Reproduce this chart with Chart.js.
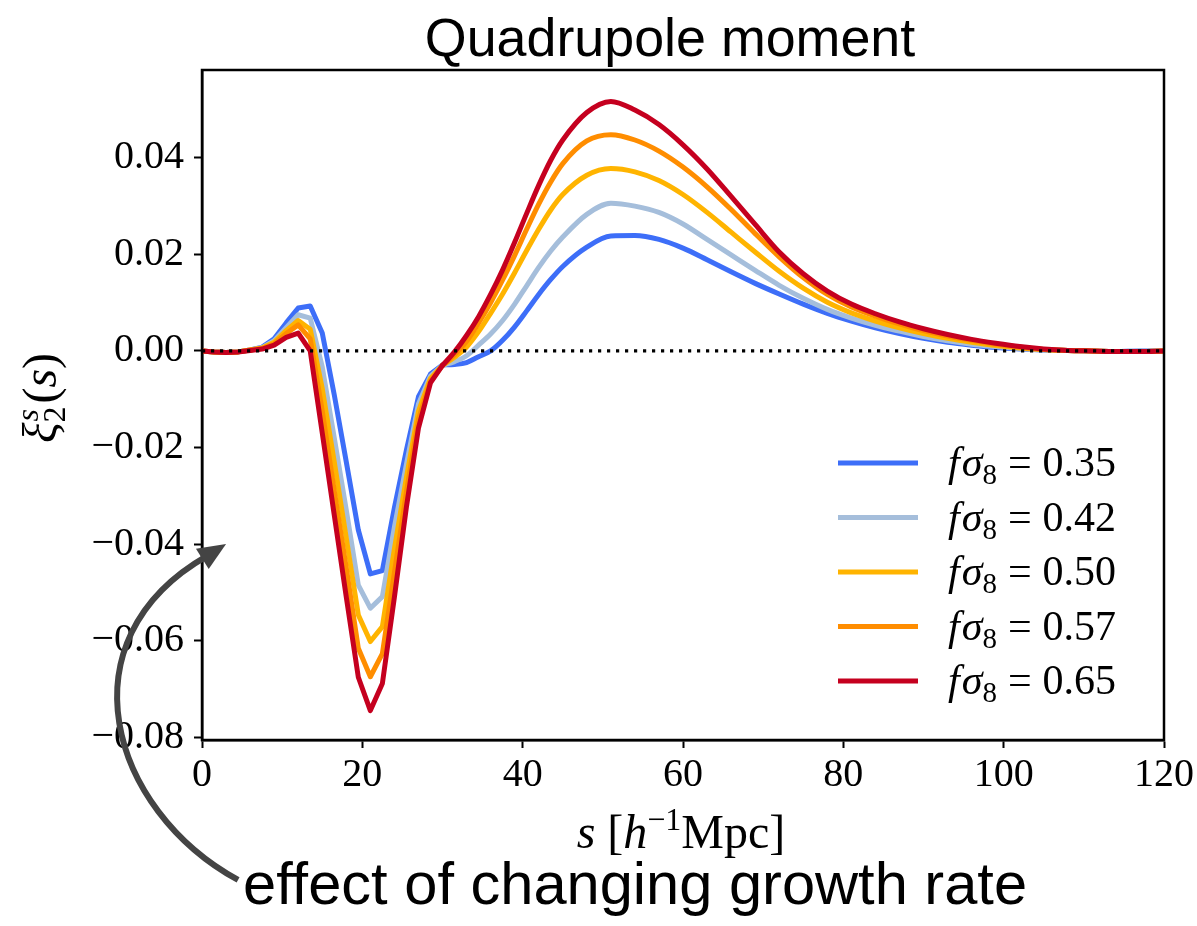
<!DOCTYPE html>
<html>
<head>
<meta charset="utf-8">
<script src="https://cdn.jsdelivr.net/npm/chart.js@4.4.0/dist/chart.umd.min.js"></script>
<style>
  html, body { margin: 0; padding: 0; background: #fff; }
  #wrap { width: 1197px; height: 926px; }
</style>
</head>
<body>
<div id="wrap"><canvas id="chart" width="1197" height="926"></canvas></div>
<script>
// separation s [h^-1 Mpc]
const sValues = [0, 1.5, 3, 4.5, 6, 7.5, 9, 10.5, 12, 13.5, 15, 16.5, 18, 19.5, 21, 22.5, 24, 25.5, 27, 28.5,
  30, 31.5, 33, 34.5, 36, 37.5, 39, 40.5, 42, 43.5, 45, 48, 51, 54, 57, 60, 63, 66, 69, 72,
  75, 78, 81, 84, 87, 90, 93, 96, 99, 102, 105, 108, 111, 114, 117, 120];

// quadrupole xi_2(s), one list per f*sigma8
const xi035 = [0, -0.0002, -0.0003, -0.0002, 0.0002, 0.0008, 0.0025, 0.0058, 0.0089, 0.0093, 0.0037, -0.0091, -0.0230, -0.0371, -0.0462, -0.0455, -0.0325, -0.0205, -0.0095, -0.0048,
  -0.0029, -0.0028, -0.0024, -0.0012, 0.0000, 0.0022, 0.0050, 0.0083, 0.0117, 0.0148, 0.0175, 0.0215, 0.0238, 0.0239, 0.0231, 0.0213, 0.0189, 0.0164, 0.0140, 0.0118,
  0.0097, 0.0078, 0.0062, 0.0048, 0.0036, 0.0026, 0.0018, 0.0012, 0.0007, 0.0004, 0.0002, 0.0001, 0, -0.0001, 0, 0];
const xi042 = [0, -0.0002, -0.0003, -0.0002, 0.0002, 0.0007, 0.0021, 0.0048, 0.0075, 0.0068, -0.0033, -0.0180, -0.0330, -0.0485, -0.0533, -0.0509, -0.0365, -0.0235, -0.0110, -0.0052,
  -0.0030, -0.0022, -0.0010, 0.0012, 0.0035, 0.0063, 0.0097, 0.0135, 0.0173, 0.0207, 0.0236, 0.0283, 0.0306, 0.0300, 0.0287, 0.0263, 0.0231, 0.0199, 0.0167, 0.0136,
  0.0109, 0.0086, 0.0068, 0.0053, 0.0041, 0.0030, 0.0021, 0.0014, 0.0009, 0.0005, 0.0002, 0.0001, 0, -0.0001, 0, 0];
const xi050 = [0, -0.0002, -0.0003, -0.0002, 0.0002, 0.0006, 0.0018, 0.0042, 0.0063, 0.0045, -0.0078, -0.0230, -0.0388, -0.0547, -0.0602, -0.0571, -0.0410, -0.0262, -0.0125, -0.0057,
  -0.0030, -0.0013, 0.0008, 0.0040, 0.0078, 0.0118, 0.0162, 0.0208, 0.0252, 0.0292, 0.0324, 0.0364, 0.0378, 0.0371, 0.0353, 0.0324, 0.0287, 0.0246, 0.0205, 0.0165,
  0.0130, 0.0101, 0.0079, 0.0062, 0.0048, 0.0036, 0.0026, 0.0018, 0.0011, 0.0006, 0.0003, 0.0001, 0, -0.0001, -0.0001, 0];
const xi057 = [0, -0.0002, -0.0003, -0.0002, 0.0002, 0.0005, 0.0015, 0.0036, 0.0054, 0.0025, -0.0124, -0.0290, -0.0450, -0.0616, -0.0675, -0.0627, -0.0460, -0.0292, -0.0142, -0.0062,
  -0.0030, -0.0008, 0.0020, 0.0058, 0.0100, 0.0147, 0.0198, 0.0252, 0.0304, 0.0350, 0.0388, 0.0435, 0.0448, 0.0437, 0.0414, 0.0381, 0.0340, 0.0293, 0.0243, 0.0195,
  0.0152, 0.0117, 0.0091, 0.0072, 0.0056, 0.0042, 0.0031, 0.0022, 0.0014, 0.0008, 0.0003, 0.0001, 0, -0.0001, -0.0001, 0];
const xi065 = [0, -0.0002, -0.0003, -0.0002, 0.0001, 0.0004, 0.0012, 0.0028, 0.0037, 0.0000, -0.0170, -0.0340, -0.0510, -0.0676, -0.0745, -0.0689, -0.0510, -0.0323, -0.0160, -0.0066,
  -0.0030, -0.0002, 0.0032, 0.0071, 0.0117, 0.0168, 0.0225, 0.0285, 0.0343, 0.0395, 0.0437, 0.0494, 0.0517, 0.0499, 0.0469, 0.0427, 0.0377, 0.0320, 0.0262, 0.0205,
  0.0160, 0.0124, 0.0097, 0.0077, 0.0060, 0.0046, 0.0034, 0.0024, 0.0016, 0.0009, 0.0004, 0.0001, 0, -0.0001, -0.0001, 0];

const growthLabels = ['0.35', '0.42', '0.50', '0.57', '0.65'];
const zeroLineS = [0, 120];
const xTicks = [0, 20, 40, 60, 80, 100, 120];
const yTicks = [-0.08, -0.06, -0.04, -0.02, 0, 0.02, 0.04];

const seriesList = [xi035, xi042, xi050, xi057, xi065];
const lineColors = ['#3d6ef8', '#a5bedb', '#ffb400', '#ff8d00', '#c5001f'];

// the sharp trough part is drawn straight, the smooth hump part with monotone curves
const SPLIT = sValues.indexOf(30);

const SERIF = '"Liberation Serif", "DejaVu Serif", serif';
const SANS = '"Liberation Sans", Arial, sans-serif';

function toPoints(ys, from, to) {
  return sValues.slice(from, to).map((s, i) => ({ x: s, y: ys[from + i] }));
}

function fmtTick(v) {
  if (Math.abs(v) < 1e-9) return '0.00';
  return (v < 0 ? '\u2212' : '') + Math.abs(v).toFixed(2);
}

// draw a row of text pieces with different fonts / offsets
function drawRuns(ctx, runs, x, y, align) {
  let total = 0;
  runs.forEach(r => { ctx.font = r.font; r.w = ctx.measureText(r.t).width + (r.gap || 0); total += r.w; });
  let cx = align === 'center' ? x - total / 2 : x;
  runs.forEach(r => {
    ctx.font = r.font;
    ctx.fillText(r.t, cx + (r.pre || 0), y + (r.dy || 0));
    cx += r.w;
  });
}

const datasets = [];
seriesList.forEach((ys, i) => {
  const common = {
    borderColor: lineColors[i],
    borderWidth: 5,
    pointRadius: 0,
    borderJoinStyle: 'round',
    borderCapStyle: 'round',
    order: seriesList.length - i
  };
  datasets.push(Object.assign({ label: growthLabels[i], inLegend: true, data: toPoints(ys, 0, SPLIT + 1), tension: 0 }, common));
  datasets.push(Object.assign({ label: growthLabels[i], inLegend: false, data: toPoints(ys, SPLIT), cubicInterpolationMode: 'monotone' }, common));
});
datasets.push({
  label: 'zero',
  inLegend: false,
  data: zeroLineS.map(s => ({ x: s, y: 0 })),
  borderColor: '#000',
  borderWidth: 3.2,
  borderDash: [3.2, 5.8],
  pointRadius: 0,
  order: 0
});

const decorPlugin = {
  id: 'decor',
  afterDraw(chart) {
    const ctx = chart.ctx;
    const area = chart.chartArea;
    const xs = chart.scales.x, ys = chart.scales.y;
    ctx.save();

    // frame
    ctx.strokeStyle = '#000';
    ctx.lineWidth = 2.5;
    ctx.strokeRect(area.left, area.top, area.right - area.left, area.bottom - area.top);

    ctx.fillStyle = '#000';
    ctx.textBaseline = 'alphabetic';
    ctx.textAlign = 'left';

    // legend
    const items = chart.data.datasets.filter(d => d.inLegend);
    items.forEach((d, i) => {
      const yy = 463 + i * 54.5;
      ctx.strokeStyle = d.borderColor;
      ctx.lineWidth = 5;
      ctx.lineCap = 'butt';
      ctx.beginPath();
      ctx.moveTo(838, yy);
      ctx.lineTo(918, yy);
      ctx.stroke();
      drawRuns(ctx, [
        { t: 'f', font: 'italic 42px ' + SERIF, gap: 2 },
        { t: '\u03c3', font: 'italic 42px ' + SERIF },
        { t: '8', font: '29px ' + SERIF, dy: 8 },
        { t: '=', font: '42px ' + SERIF, pre: 11, gap: 22 },
        { t: d.label, font: '42px ' + SERIF }
      ], 948, yy + 13, 'left');
    });

    // title
    ctx.fillStyle = '#000';
    ctx.font = '100px ' + SANS;
    let w = ctx.measureText('Quadrupole moment').width;
    ctx.font = (100 * 490 / w).toFixed(1) + 'px ' + SANS;
    ctx.textAlign = 'center';
    ctx.fillText('Quadrupole moment', 670, 56);

    // x axis title
    ctx.textAlign = 'left';
    drawRuns(ctx, [
      { t: 's', font: 'italic 48px ' + SERIF },
      { t: ' [', font: '48px ' + SERIF },
      { t: 'h', font: 'italic 48px ' + SERIF },
      { t: '\u22121', font: '32px ' + SERIF, dy: -18 },
      { t: 'Mpc]', font: '48px ' + SERIF }
    ], 681, 848, 'center');

    // y axis title
    ctx.save();
    ctx.translate(56, 398);
    ctx.rotate(-Math.PI / 2);
    ctx.font = 'italic 48px ' + SERIF;
    const wXi = ctx.measureText('\u03be').width;
    ctx.font = '32px ' + SERIF;
    const wSub = ctx.measureText('2').width;
    ctx.font = '48px ' + SERIF;
    const wPar = ctx.measureText('()').width;
    ctx.font = 'italic 48px ' + SERIF;
    const wS = ctx.measureText('s').width;
    const totalW = wXi + wSub + 3 + wPar + wS;
    let cx = -totalW / 2;
    ctx.font = 'italic 48px ' + SERIF;
    ctx.fillText('\u03be', cx, 0); cx += wXi;
    ctx.font = '32px ' + SERIF;
    ctx.fillText('2', cx, 9);
    ctx.font = 'italic 32px ' + SERIF;
    ctx.fillText('s', cx + 1, -18);
    cx += wSub + 3;
    drawRuns(ctx, [
      { t: '(', font: '48px ' + SERIF },
      { t: 's', font: 'italic 48px ' + SERIF },
      { t: ')', font: '48px ' + SERIF }
    ], cx, 0, 'left');
    ctx.restore();

    // annotation arrow (anchored in data units)
    const P = (s, v) => [xs.getPixelForValue(s), ys.getPixelForValue(v)];
    const p0 = P(4.5, -0.1096), p1 = P(-11.5, -0.0951), p2 = P(-17.7, -0.0599), p3 = P(0.6, -0.0425), tip = P(3.0, -0.0400);
    ctx.strokeStyle = '#444';
    ctx.fillStyle = '#444';
    ctx.lineWidth = 6;
    ctx.lineCap = 'butt';
    ctx.beginPath();
    ctx.moveTo(p0[0], p0[1]);
    ctx.bezierCurveTo(p1[0], p1[1], p2[0], p2[1], p3[0], p3[1]);
    ctx.stroke();
    const ang = Math.atan2(tip[1] - p3[1], tip[0] - p3[0]);
    const hl = 28, hw = 12;
    const bx = tip[0] - hl * Math.cos(ang), by = tip[1] - hl * Math.sin(ang);
    ctx.beginPath();
    ctx.moveTo(tip[0], tip[1]);
    ctx.lineTo(bx + hw * Math.sin(ang), by - hw * Math.cos(ang));
    ctx.lineTo(bx - hw * Math.sin(ang), by + hw * Math.cos(ang));
    ctx.closePath();
    ctx.fill();

    // annotation text
    ctx.fillStyle = '#000';
    ctx.font = '100px ' + SANS;
    w = ctx.measureText('effect of changing growth rate').width;
    ctx.font = (100 * 784 / w).toFixed(1) + 'px ' + SANS;
    ctx.textAlign = 'left';
    ctx.fillText('effect of changing growth rate', 243, 904);

    ctx.restore();
  }
};

new Chart(document.getElementById('chart'), {
  type: 'line',
  data: { datasets: datasets },
  options: {
    responsive: false,
    animation: false,
    devicePixelRatio: 1,
    layout: { padding: { top: 70, right: 32, left: 0, bottom: 0 } },
    plugins: { legend: { display: false }, tooltip: { enabled: false }, title: { display: false } },
    scales: {
      x: {
        type: 'linear',
        min: 0,
        max: 120,
        afterBuildTicks: s => { s.ticks = xTicks.map(v => ({ value: v })); },
        afterFit: s => { s.height = 186; },
        grid: { display: true, drawOnChartArea: false, drawTicks: true, tickLength: 8, tickWidth: 2, tickColor: '#000' },
        border: { display: true, color: '#000', width: 2.5 },
        ticks: { color: '#000', font: { family: SERIF, size: 40 }, padding: 3, maxRotation: 0, autoSkip: false, callback: v => String(v) }
      },
      y: {
        type: 'linear',
        min: -0.0806,
        max: 0.0582,
        afterBuildTicks: s => { s.ticks = yTicks.map(v => ({ value: v })); },
        afterFit: s => { s.width = 202; },
        grid: { display: true, drawOnChartArea: false, drawTicks: true, tickLength: 8, tickWidth: 2, tickColor: '#000' },
        border: { display: true, color: '#000', width: 2.5 },
        ticks: { color: '#000', font: { family: SERIF, size: 40 }, padding: 10, autoSkip: false, callback: v => fmtTick(v) }
      }
    }
  },
  plugins: [decorPlugin]
});
</script>
</body>
</html>
